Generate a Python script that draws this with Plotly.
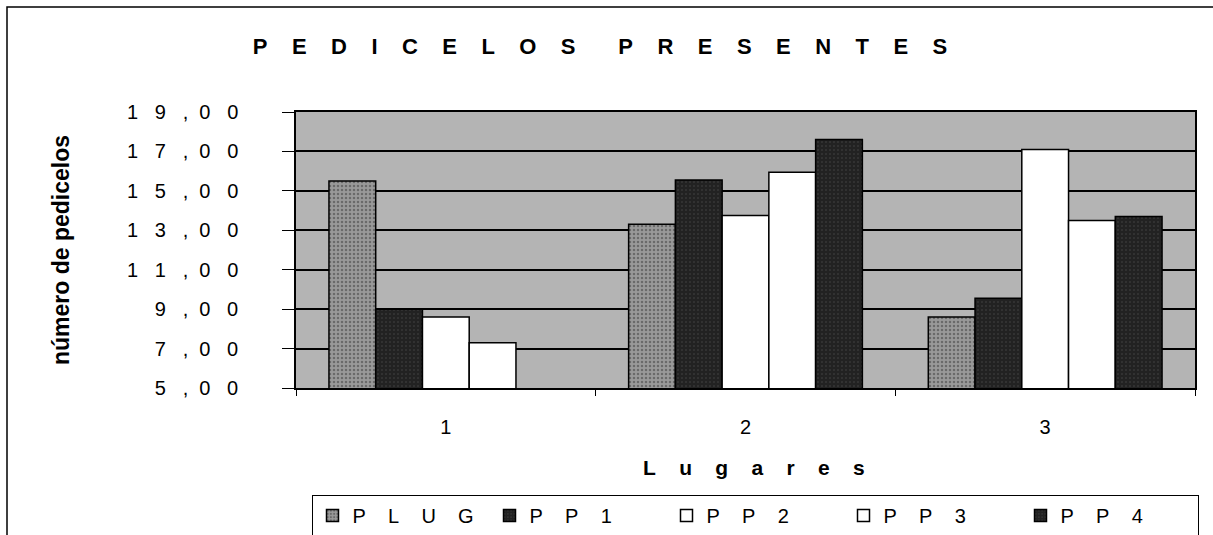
import plotly.graph_objects as go

# ---------------- data ----------------
categories = ["1", "2", "3"]
series_names = ["PLUG", "PP1", "PP2", "PP3", "PP4"]
plug = [15.5, 13.3, 8.6]
pp1 = [9.0, 15.55, 9.55]
pp2 = [8.6, 13.75, 17.1]
pp3 = [7.3, 15.95, 13.5]
pp4 = [None, 17.6, 13.7]
y_tick_values = [5, 7, 9, 11, 13, 15, 17, 19]
y_tick_labels = ["5,00", "7,00", "9,00", "11,00", "13,00", "15,00", "17,00", "19,00"]
title_text = "PEDICELOS PRESENTES"
x_title = "Lugares"
y_title = "número de pedicelos"

# ---------------- styling ----------------
NB = "\u00a0"
FONT = "Liberation Sans, Arial, sans-serif"
W, H = 1213, 535
L, R, T, B = 296, 1195, 112, 388   # plot area in px


def spaced(text, gap=4, word_gap=8):
    out = []
    for i, ch in enumerate(text):
        if ch == " ":
            out.append(NB * word_gap)
            continue
        out.append(ch)
        if i < len(text) - 1 and text[i + 1] != " ":
            out.append(NB * gap)
    return "".join(out)


def tick_spaced(label):
    out = ""
    for i, ch in enumerate(label):
        out += ch
        if i < len(label) - 1:
            nxt = label[i + 1]
            if nxt == ",":
                out += NB * 3
            elif ch == ",":
                out += NB * 2
            else:
                out += NB * 3
    return out


def px_x(x):
    return (x - L) / (R - L)


def px_y(y):
    return (B - y) / (B - T)


series_values = [plug, pp1, pp2, pp3, pp4]
dark = dict(color="#252525", pattern=dict(shape=".", fgcolor="#6a6a6a", bgcolor="#222222", size=4, solidity=0.12))
styles = [
    dict(color="#8c8c8c", pattern=dict(shape=".", fgcolor="#3a3a3a", bgcolor="#999999", size=4, solidity=0.3)),
    dark,
    dict(color="#ffffff"),
    dict(color="#ffffff"),
    dark,
]

fig = go.Figure()
for name, vals, st in zip(series_names, series_values, styles):
    marker = dict(color=st["color"], line=dict(color="black", width=1.5))
    if "pattern" in st:
        marker["pattern"] = st["pattern"]
    fig.add_trace(go.Bar(x=categories, y=vals, name=spaced(name, 4), marker=marker))

fig.update_layout(
    width=W, height=H,
    margin=dict(l=L, r=W - R, t=T, b=H - B, autoexpand=False),
    paper_bgcolor="white",
    plot_bgcolor="#b4b4b4",
    barmode="group",
    bargap=0.22,
    bargroupgap=0,
    font=dict(family=FONT, color="black", size=19),
    title=dict(
        text="<b>" + spaced(title_text, 4, 7) + "</b>",
        x=600 / W, xanchor="center", y=1 - 46 / H, yanchor="middle",
        font=dict(family=FONT, size=22, color="black"),
    ),
    showlegend=True,
    legend=dict(
        orientation="h",
        x=px_x(755), xanchor="center",
        y=px_y(495), yanchor="top",
        bgcolor="white", bordercolor="black", borderwidth=1,
        font=dict(family=FONT, size=20, color="black"),
        traceorder="normal",
        entrywidth=132, entrywidthmode="pixels",
    ),
)

fig.update_xaxes(
    type="category",
    showline=True, linecolor="black", linewidth=1.5, mirror=True,
    ticks="outside", tickson="boundaries", ticklen=6, tickcolor="black",
    ticklabelstandoff=20,
    tickfont=dict(family=FONT, size=20, color="black"),
    showgrid=False,
)
fig.update_yaxes(
    range=[5, 19],
    tickmode="array", tickvals=y_tick_values,
    ticktext=[tick_spaced(t) for t in y_tick_labels],
    showline=True, linecolor="black", linewidth=1.5, mirror=True,
    ticks="outside", ticklen=12, tickcolor="black",
    ticklabelstandoff=40,
    tickfont=dict(family=FONT, size=20, color="black"),
    showgrid=True, gridcolor="black", gridwidth=1.5,
    zeroline=False,
)

# axis titles
fig.add_annotation(
    text="<b>" + y_title + "</b>", textangle=-90,
    xref="paper", yref="paper", x=px_x(61), y=px_y(250),
    xanchor="center", yanchor="middle", showarrow=False,
    font=dict(family=FONT, size=23, color="black"),
)
fig.add_annotation(
    text="<b>" + spaced(x_title, 4) + "</b>",
    xref="paper", yref="paper", x=px_x(754), y=px_y(467),
    xanchor="center", yanchor="middle", showarrow=False,
    font=dict(family=FONT, size=21, color="black"),
)

# outer frame of the chart sheet
fig.add_shape(
    type="rect", xref="paper", yref="paper",
    x0=px_x(7), x1=px_x(1240), y0=px_y(560), y1=px_y(7),
    line=dict(color="black", width=1.5), layer="below",
)

fig.write_html("out.html")
